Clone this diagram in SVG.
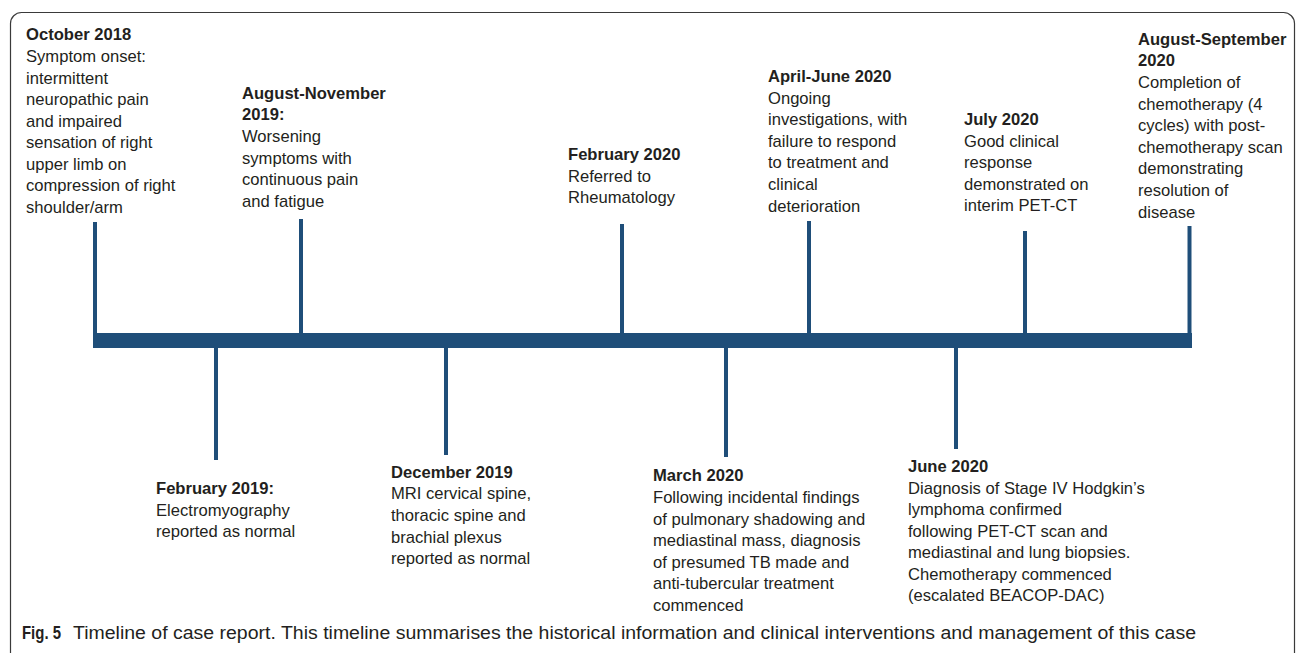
<svg xmlns="http://www.w3.org/2000/svg" width="1296" height="653" viewBox="0 0 1296 653">
<style>
text{font-family:"Liberation Sans",Arial,sans-serif;font-size:16.6px;fill:#231f20}
.t{font-weight:bold}
.tick{stroke:#1f4e79;stroke-width:4;fill:none}
.cap{font-family:"Liberation Sans",Arial,sans-serif;font-size:17.5px}
</style>
<rect x="10.5" y="12.5" width="1284" height="660" rx="11" fill="#fff" stroke="#3a3a3a" stroke-width="1.2"/>
<g id="connectors">
<rect x="93" y="333" width="1099" height="15" fill="#1f4e79"/>
<line class="tick" x1="95" y1="222" x2="95" y2="335"/>
<line class="tick" x1="301" y1="219" x2="301" y2="334"/>
<line class="tick" x1="622" y1="224" x2="622" y2="334"/>
<line class="tick" x1="809" y1="221" x2="809" y2="334"/>
<line class="tick" x1="1025" y1="231" x2="1025" y2="334"/>
<line class="tick" x1="1189.5" y1="226" x2="1189.5" y2="335"/>
<line class="tick" x1="216" y1="347" x2="216" y2="460"/>
<line class="tick" x1="446" y1="347" x2="446" y2="455"/>
<line class="tick" x1="726" y1="347" x2="726" y2="457"/>
<line class="tick" x1="956" y1="347" x2="956" y2="449"/>
</g>
<g id="oct2018">
<text x="26" y="40" class="t">October 2018</text>
<text x="26" y="62">Symptom onset:</text>
<text x="26" y="84">intermittent</text>
<text x="26" y="105">neuropathic pain</text>
<text x="26" y="127">and impaired</text>
<text x="26" y="148">sensation of right</text>
<text x="26" y="170">upper limb on</text>
<text x="26" y="191">compression of right</text>
<text x="26" y="213">shoulder/arm</text>
</g>
<g id="aug2019">
<text x="242" y="99" class="t">August-November</text>
<text x="242" y="120" class="t">2019:</text>
<text x="242" y="142">Worsening</text>
<text x="242" y="164">symptoms with</text>
<text x="242" y="185">continuous pain</text>
<text x="242" y="207">and fatigue</text>
</g>
<g id="feb2019">
<text x="156" y="494" class="t">February 2019:</text>
<text x="156" y="516">Electromyography</text>
<text x="156" y="537">reported as normal</text>
</g>
<g id="dec2019">
<text x="391" y="478" class="t">December 2019</text>
<text x="391" y="499">MRI cervical spine,</text>
<text x="391" y="521">thoracic spine and</text>
<text x="391" y="543">brachial plexus</text>
<text x="391" y="564">reported as normal</text>
</g>
<g id="feb2020">
<text x="568" y="160" class="t">February 2020</text>
<text x="568" y="182">Referred to</text>
<text x="568" y="203">Rheumatology</text>
</g>
<g id="mar2020">
<text x="653" y="481" class="t">March 2020</text>
<text x="653" y="503">Following incidental findings</text>
<text x="653" y="525">of pulmonary shadowing and</text>
<text x="653" y="546">mediastinal mass, diagnosis</text>
<text x="653" y="568">of presumed TB made and</text>
<text x="653" y="589">anti-tubercular treatment</text>
<text x="653" y="611">commenced</text>
</g>
<g id="apr2020">
<text x="768" y="82" class="t">April-June 2020</text>
<text x="768" y="104">Ongoing</text>
<text x="768" y="125">investigations, with</text>
<text x="768" y="147">failure to respond</text>
<text x="768" y="168">to treatment and</text>
<text x="768" y="190">clinical</text>
<text x="768" y="212">deterioration</text>
</g>
<g id="jul2020">
<text x="964" y="125" class="t">July 2020</text>
<text x="964" y="147">Good clinical</text>
<text x="964" y="168">response</text>
<text x="964" y="190">demonstrated on</text>
<text x="964" y="211">interim PET-CT</text>
</g>
<g id="jun2020">
<text x="908" y="472" class="t">June 2020</text>
<text x="908" y="494">Diagnosis of Stage IV Hodgkin’s</text>
<text x="908" y="515">lymphoma confirmed</text>
<text x="908" y="537">following PET-CT scan and</text>
<text x="908" y="558">mediastinal and lung biopsies.</text>
<text x="908" y="580">Chemotherapy commenced</text>
<text x="908" y="601">(escalated BEACOP-DAC)</text>
</g>
<g id="augsep2020">
<text x="1138" y="45" class="t">August-September</text>
<text x="1138" y="66" class="t">2020</text>
<text x="1138" y="88">Completion of</text>
<text x="1138" y="110">chemotherapy (4</text>
<text x="1138" y="131">cycles) with post-</text>
<text x="1138" y="153">chemotherapy scan</text>
<text x="1138" y="174">demonstrating</text>
<text x="1138" y="196">resolution of</text>
<text x="1138" y="218">disease</text>
</g>
<g id="caption">
<text x="22" y="639" class="cap" style="font-weight:bold;font-size:19px" textLength="39" lengthAdjust="spacingAndGlyphs">Fig. 5</text>
<text x="73" y="639" class="cap" textLength="1123" lengthAdjust="spacingAndGlyphs">Timeline of case report. This timeline summarises the historical information and clinical interventions and management of this case</text>
</g>
</svg>
